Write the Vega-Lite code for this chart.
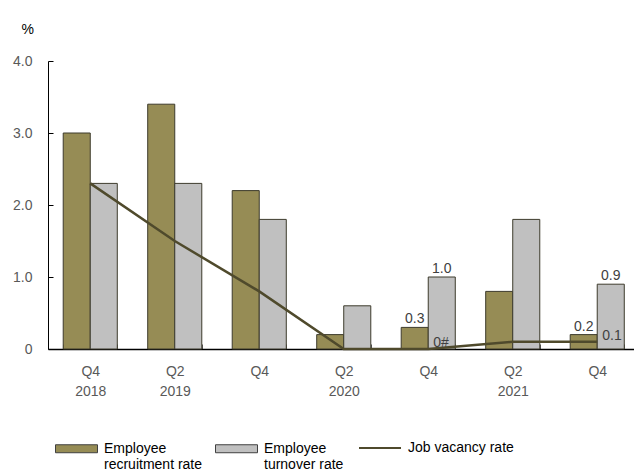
{
  "$schema": "https://vega.github.io/schema/vega-lite/v6.json",
  "width": 586,
  "height": 288,
  "autosize": "none",
  "padding": {"left": 48, "top": 61, "right": 0, "bottom": 124},
  "background": "white",
  "config": {
    "view": {"stroke": null},
    "font": "Liberation Sans",
    "axis": {"labelFont": "Liberation Sans", "titleFont": "Liberation Sans"},
    "legend": {"labelFont": "Liberation Sans"}
  },
  "data": {
    "values": [
      {"period": "Q4 2018", "series": "Employee recruitment rate", "value": 3.0},
      {"period": "Q2 2019", "series": "Employee recruitment rate", "value": 3.4},
      {"period": "Q4 2019", "series": "Employee recruitment rate", "value": 2.2},
      {"period": "Q2 2020", "series": "Employee recruitment rate", "value": 0.2},
      {"period": "Q4 2020", "series": "Employee recruitment rate", "value": 0.3},
      {"period": "Q2 2021", "series": "Employee recruitment rate", "value": 0.8},
      {"period": "Q4 2021", "series": "Employee recruitment rate", "value": 0.2},
      {"period": "Q4 2018", "series": "Employee turnover rate", "value": 2.3},
      {"period": "Q2 2019", "series": "Employee turnover rate", "value": 2.3},
      {"period": "Q4 2019", "series": "Employee turnover rate", "value": 1.8},
      {"period": "Q2 2020", "series": "Employee turnover rate", "value": 0.6},
      {"period": "Q4 2020", "series": "Employee turnover rate", "value": 1.0},
      {"period": "Q2 2021", "series": "Employee turnover rate", "value": 1.8},
      {"period": "Q4 2021", "series": "Employee turnover rate", "value": 0.9},
      {"period": "Q4 2018", "series": "Job vacancy rate", "value": 2.3},
      {"period": "Q2 2019", "series": "Job vacancy rate", "value": 1.5},
      {"period": "Q4 2019", "series": "Job vacancy rate", "value": 0.8},
      {"period": "Q2 2020", "series": "Job vacancy rate", "value": 0.0},
      {"period": "Q4 2020", "series": "Job vacancy rate", "value": 0.0, "label": "0#"},
      {"period": "Q2 2021", "series": "Job vacancy rate", "value": 0.1},
      {"period": "Q4 2021", "series": "Job vacancy rate", "value": 0.1, "label": "0.1"}
    ]
  },
  "encoding": {
    "x": {
      "field": "period",
      "type": "nominal",
      "sort": null,
      "scale": {"paddingInner": 0.36, "paddingOuter": 0.1476, "align": 0.61},
      "axis": {
        "title": null,
        "labelAngle": 0,
        "labelFontSize": 14,
        "labelColor": "#595959",
        "labelPadding": 20,
        "labelLineHeight": 20,
        "tickBand": "extent",
        "tickSize": -5,
        "tickColor": "#555555",
        "domainColor": "#000000",
        "domainWidth": 1.5,
        "labelExpr": "!isValid(datum.value) ? '' : indexof(['Q4 2018','Q2 2019','Q2 2020','Q2 2021'], datum.value) >= 0 ? split(datum.value, ' ') : substring(datum.value, 0, 2)"
      }
    },
    "y": {
      "field": "value",
      "type": "quantitative",
      "scale": {"domain": [0, 4]},
      "axis": {
        "title": "%",
        "titleAngle": 0,
        "titleFontSize": 14,
        "titleFontWeight": "normal",
        "titleColor": "#000000",
        "titleX": -27,
        "titleY": -28,
        "titleAlign": "left",
        "titleBaseline": "alphabetic",
        "values": [0, 1, 2, 3, 4],
        "grid": false,
        "labelFontSize": 14,
        "labelColor": "#595959",
        "labelPadding": 21,
        "tickSize": -5,
        "tickColor": "#000000",
        "domainColor": "#000000",
        "labelExpr": "datum.value == 0 ? '0' : format(datum.value, '.1f')"
      }
    }
  },
  "layer": [
    {
      "transform": [{"filter": "datum.series != 'Job vacancy rate'"}],
      "mark": {"type": "bar", "stroke": "#3d3b2c", "strokeWidth": 1},
      "encoding": {
        "xOffset": {"field": "series", "type": "nominal", "sort": null, "scale": {"paddingInner": 0}},
        "fill": {
          "field": "series",
          "type": "nominal",
          "scale": {
            "domain": ["Employee recruitment rate", "Employee turnover rate"],
            "range": ["#968c55", "#c0c0c0"]
          },
          "legend": {
            "title": null,
            "orient": "none",
            "legendX": 7,
            "legendY": 366,
            "direction": "horizontal",
            "columns": 2,
            "columnPadding": 10,
            "symbolSize": 1764,
            "symbolType": "M-1,-0.19H1V0.19H-1Z",
            "symbolOffset": 0,
            "symbolStrokeColor": "#404040",
            "symbolStrokeWidth": 1,
            "symbolOpacity": 1,
            "labelFontSize": 14,
            "labelColor": "#000000",
            "labelLimit": 300,
            "labelOffset": 6,
            "labelBaseline": "middle",
            "labelLineHeight": 22,
            "labelExpr": "['Employee', substring(datum.label, 9)]"
          }
        }
      }
    },
    {
      "transform": [
        {"filter": "datum.series != 'Job vacancy rate' && (datum.period == 'Q4 2020' || datum.period == 'Q4 2021')"}
      ],
      "mark": {"type": "text", "baseline": "alphabetic", "dy": -4, "fontSize": 14, "color": "#404040"},
      "encoding": {
        "xOffset": {"field": "series", "type": "nominal", "sort": null, "scale": {"paddingInner": 0}},
        "text": {"field": "value", "type": "quantitative", "format": ".1f"}
      }
    },
    {
      "transform": [{"filter": "datum.series == 'Job vacancy rate'"}],
      "mark": {"type": "line", "strokeWidth": 2.5},
      "encoding": {
        "stroke": {
          "field": "series",
          "type": "nominal",
          "scale": {"domain": ["Job vacancy rate"], "range": ["#4f4a2c"]},
          "legend": {
            "title": null,
            "orient": "none",
            "legendX": 310,
            "legendY": 365,
            "symbolType": "stroke",
            "symbolSize": 1764,
            "symbolStrokeWidth": 2,
            "symbolOffset": 0,
            "labelFontSize": 14,
            "labelColor": "#000000",
            "labelLimit": 300,
            "labelOffset": 6,
            "labelBaseline": "middle"
          }
        }
      }
    },
    {
      "transform": [{"filter": "datum.series == 'Job vacancy rate' && isValid(datum.label)"}],
      "mark": {"type": "text", "align": "left", "baseline": "bottom", "dx": 5, "dy": 1, "fontSize": 14, "color": "#404040"},
      "encoding": {
        "text": {"field": "label", "type": "nominal"}
      }
    }
  ]
}
